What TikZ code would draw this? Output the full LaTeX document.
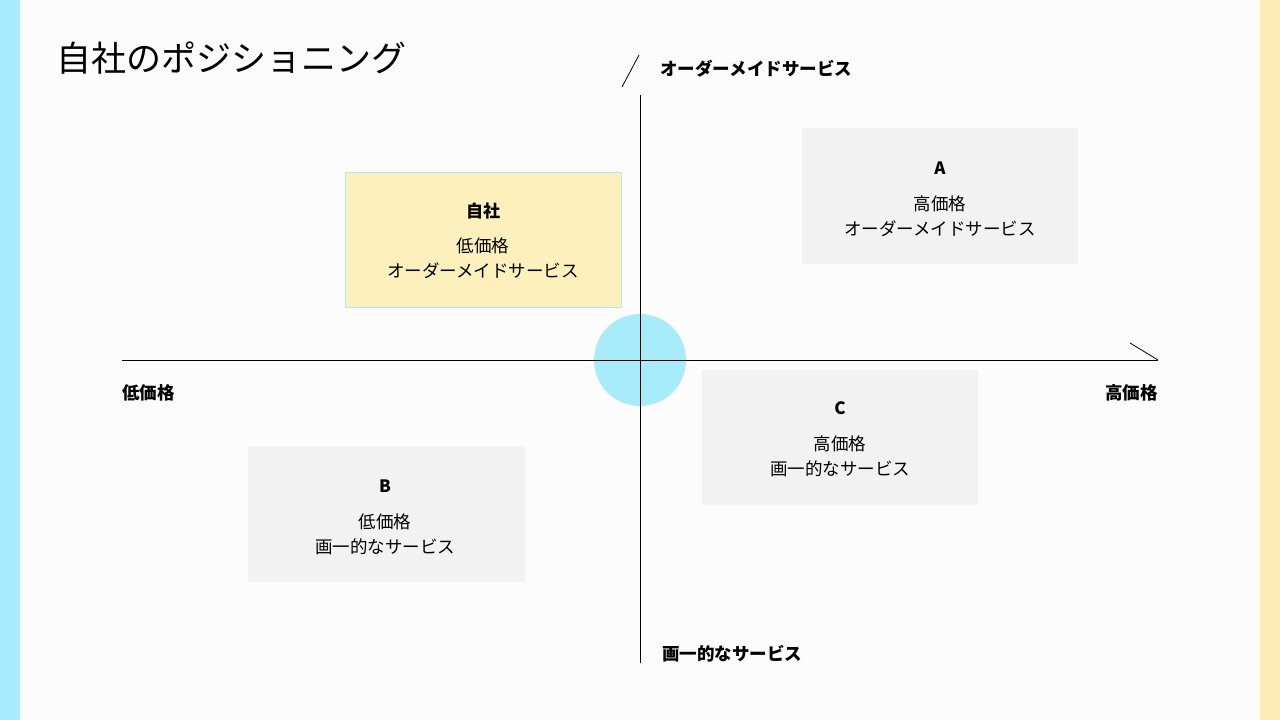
\documentclass[tikz,border=0pt]{standalone}
\usepackage{fontspec}
\setmainfont{Noto Sans CJK JP}
\definecolor{cy}{HTML}{A8ECFB}
\definecolor{yl}{HTML}{FDEDB5}
\definecolor{gb}{HTML}{F2F2F2}
\definecolor{yb}{HTML}{FDF0BC}
\begin{document}
\begin{tikzpicture}[x=1pt,y=-1pt,
  box/.style={fill=gb,draw=none},
  t/.style={font=\fontsize{17.5}{20}\selectfont,anchor=center,inner sep=0},
  tb/.style={font=\fontsize{17}{20}\selectfont\bfseries,anchor=center,inner sep=0},
  lb/.style={font=\fontsize{17.5}{20}\selectfont\bfseries,inner sep=0},
  ax/.style={draw=black,line width=0.8pt}]
\useasboundingbox (0,0) rectangle (1280,720);
\fill[white!98!gray] (0,0) rectangle (1280,720);
\fill[cy] (0,0) rectangle (20,720);
\fill[yl] (1260,0) rectangle (1280,720);
\node[anchor=west,inner sep=0,font=\fontsize{35}{40}\selectfont] (title) at (56,58) {自社のポジショニング};
% boxes
\fill[box] (802,128) rectangle (1078,264);
\fill[box] (248,446) rectangle (525,582);
\fill[box] (702,370) rectangle (978,505);
\filldraw[fill=yb,draw=cy,line width=0.8pt] (345,172) rectangle (621,307);
% circle
\fill[cy] (640,360) circle (46);
% axes
\coordinate (vt) at (640,95); \coordinate (vb) at (640,663);
\coordinate (hl) at (122,360); \coordinate (hr) at (1158,360);
\coordinate (tk1) at (622,87); \coordinate (tk2) at (639,55);
\coordinate (tk3) at (1130,343);
\draw[ax] (vt) -- (vb);
\draw[ax] (hl) -- (hr);
\draw[ax] (tk1) -- (tk2);
\draw[ax] (tk3) -- (hr);
% labels
\node[lb,anchor=west] (top) at (660,69) {オーダーメイドサービス};
\node[lb,anchor=west] (bot) at (662,654) {画一的なサービス};
\node[lb,anchor=west] (lo) at (122,393) {低価格};
\node[lb,anchor=east] (hi) at (1158,393) {高価格};
% box texts
\node[tb] (a1) at (940,168) {A};
\node[t] (a2) at (940,204) {高価格};
\node[t] (a3) at (940,229) {オーダーメイドサービス};
\node[tb] (s1) at (483,211) {自社};
\node[t] (s2) at (483,246) {低価格};
\node[t] (s3) at (483,271) {オーダーメイドサービス};
\node[tb] (b1) at (385,486) {B};
\node[t] (b2) at (385,522) {低価格};
\node[t] (b3) at (385,547) {画一的なサービス};
\node[tb] (c1) at (840,408) {C};
\node[t] (c2) at (840,444) {高価格};
\node[t] (c3) at (840,469) {画一的なサービス};
\end{tikzpicture}
\end{document}
